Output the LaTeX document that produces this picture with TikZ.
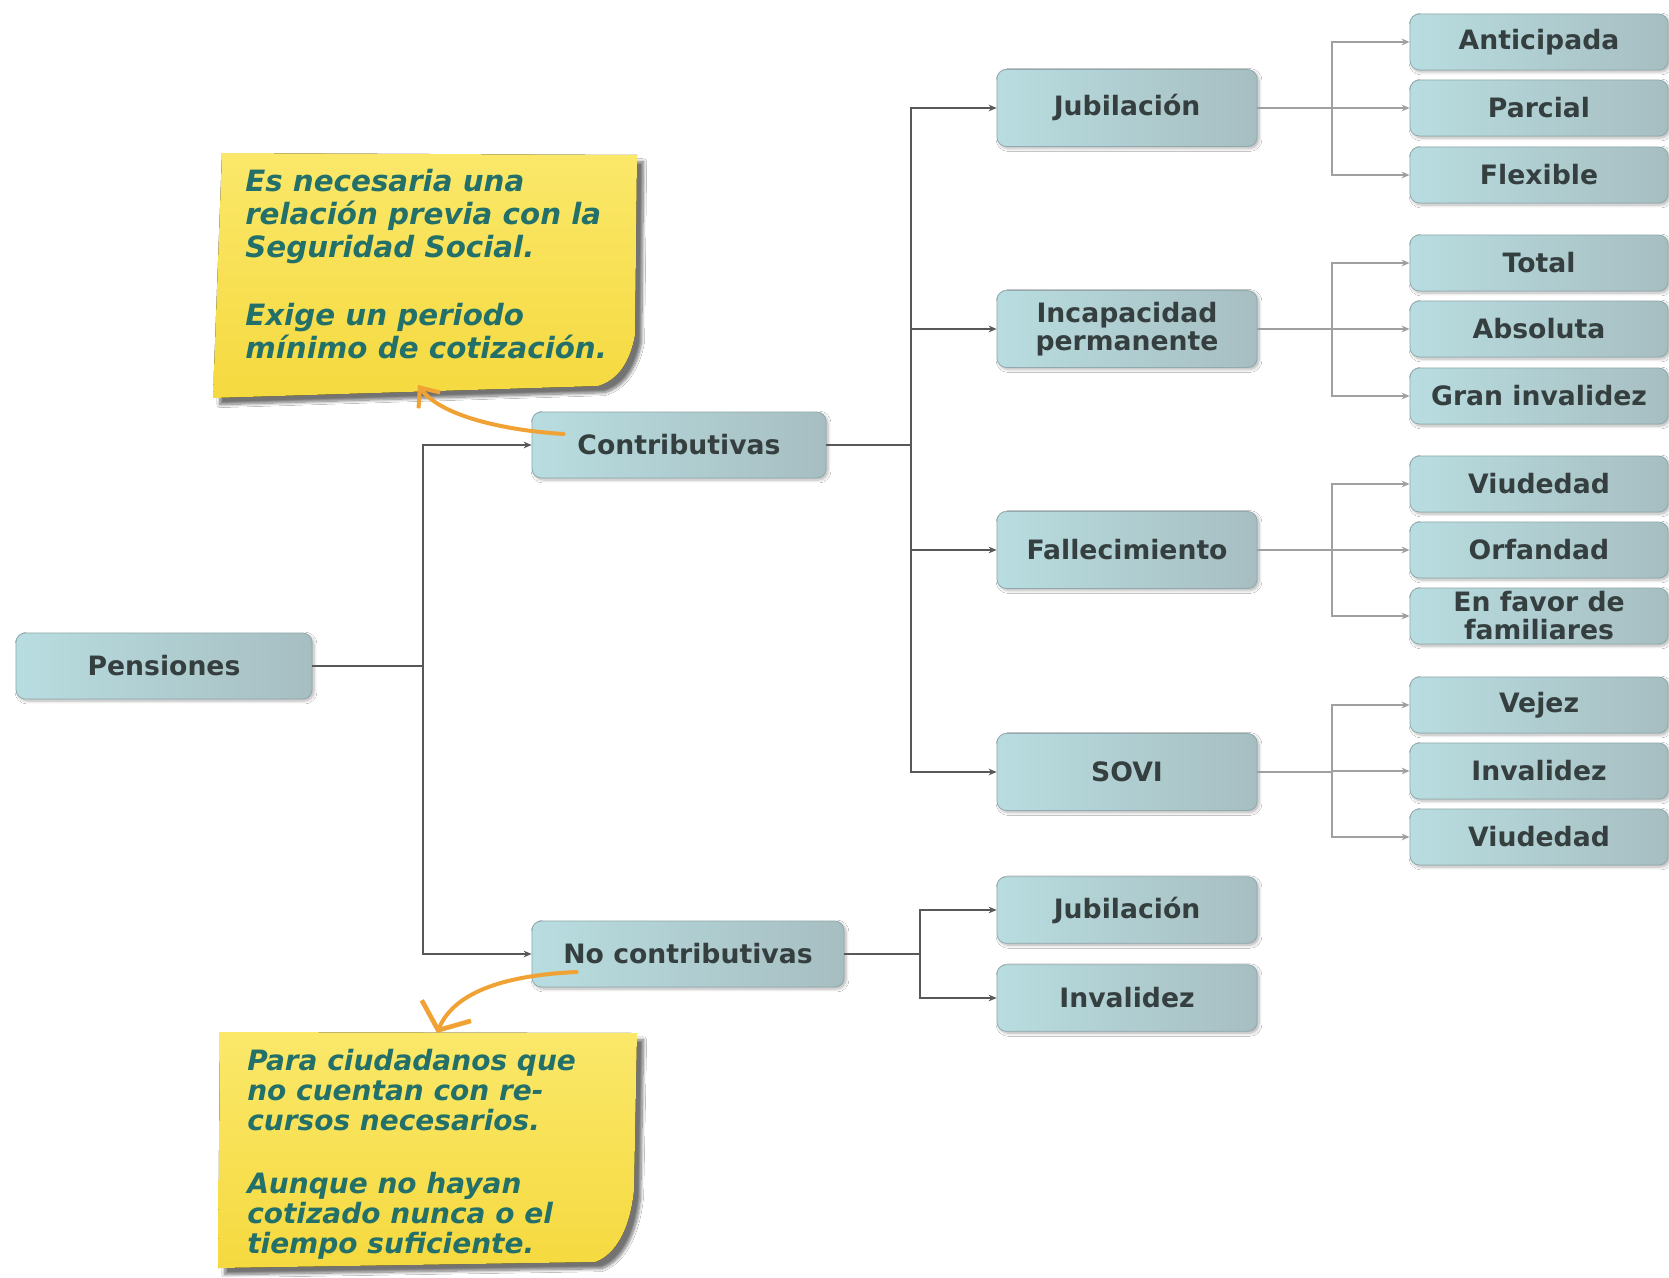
\documentclass[tikz,border=0pt]{standalone}
\usepackage{fontspec}
\setmainfont{DejaVu Sans}
\usetikzlibrary{arrows.meta,shadows.blur,calc}
\definecolor{boxL}{HTML}{B8DDE0}
\definecolor{boxR}{HTML}{A7BEC1}
\definecolor{boxD}{HTML}{90AAAD}
\definecolor{txt}{HTML}{353F40}
\definecolor{ln}{HTML}{585858}
\definecolor{lnl}{HTML}{A0A0A0}
\definecolor{note}{HTML}{F5D93F}
\definecolor{noteT}{HTML}{FBE86A}
\definecolor{hand}{HTML}{23706A}
\definecolor{orng}{HTML}{F0A234}
\tikzset{
  tbox/.style={rounded corners=7pt, left color=boxL, right color=boxR, draw=boxD,
    line width=0.6pt, font=\bfseries\fontsize{20}{21}\selectfont, text=txt,
    align=center, inner sep=2pt,
    blur shadow={shadow xshift=1.5pt, shadow yshift=-1.5pt, shadow opacity=30, shadow blur steps=6}},
  rootbox/.style={tbox, minimum width=222pt, minimum height=49.5pt},
  c1box/.style={tbox, minimum width=220.5pt, minimum height=49.5pt},
  c2box/.style={tbox, minimum width=234pt, minimum height=49.5pt},
  midbox/.style={tbox, minimum width=195pt, minimum height=57.75pt},
  ncbox/.style={tbox, minimum width=195pt, minimum height=50pt},
  leafbox/.style={tbox, minimum width=193.5pt, minimum height=42pt},
  l2/.style={draw=ln, line width=1.5pt},
  l2a/.style={l2, -{Stealth[length=6pt,width=5pt]}},
  l3/.style={draw=lnl, line width=1.5pt},
  l3a/.style={l3, -{Stealth[length=6pt,width=5pt]}},
  notepaper/.style={top color=noteT, bottom color=note,
    blur shadow={shadow xshift=5pt, shadow yshift=-5pt, shadow opacity=55, shadow blur steps=10}},
  handtxt/.style={font=\bfseries\itshape\fontsize{22}{24.75}\selectfont, text=hand, align=left, inner sep=0pt},
  handtxtb/.style={font=\bfseries\itshape\fontsize{21}{22.5}\selectfont, text=hand, align=left, inner sep=0pt},
  orarrow/.style={draw=orng, line width=3pt, line cap=round},
}
\begin{document}
\begin{tikzpicture}[x=0.75pt,y=-0.75pt]
\useasboundingbox (0,0) rectangle (1669,1277);
\fill[white] (0,0) rectangle (1669,1277);

% sticky notes
\fill[notepaper] (222,153) -- (637,155) -- (635,335) .. controls (630,362) and (618,380) .. (598,386) -- (213,398) -- cycle;
\node[handtxt, anchor=north west] (t1) at (245,169)
  {Es necesaria una\\relación previa con la\\Seguridad Social.\\[26pt]Exige un periodo\\mínimo de cotización.};
\coordinate (n1tip) at (418,385);

\fill[notepaper] (220,1032) -- (637,1033) -- (634,1190) .. controls (630,1230) and (615,1255) .. (595,1262) -- (218,1268) -- cycle;
\node[handtxtb, anchor=north west] (t2) at (247,1049)
  {Para ciudadanos que\\no cuentan con re-\\cursos necesarios.\\[24.75pt]Aunque no hayan\\cotizado nunca o el\\tiempo suficiente.};
\coordinate (n2tip) at (437,1033);

% nodes
\node[rootbox] (pen) at (164,666) {Pensiones};
\node[c1box] (con) at (679,445) {Contributivas};
\node[c2box] (nc) at (688,954) {No contributivas};

\node[midbox] (jub) at (1127,108) {Jubilación};
\node[midbox] (inc) at (1127,329) {Incapacidad\\permanente};
\node[midbox] (fal) at (1127,550) {Fallecimiento};
\node[midbox] (sovi) at (1127,772) {SOVI};
\node[ncbox] (ncj) at (1127,910) {Jubilación};
\node[ncbox] (nci) at (1127,998) {Invalidez};

\node[leafbox] (ant) at (1539,42) {Anticipada};
\node[leafbox] (par) at (1539,108) {Parcial};
\node[leafbox] (fle) at (1539,175) {Flexible};
\node[leafbox] (tot) at (1539,263) {Total};
\node[leafbox] (abs) at (1539,329) {Absoluta};
\node[leafbox] (gra) at (1539,396) {Gran invalidez};
\node[leafbox] (viu) at (1539,484) {Viudedad};
\node[leafbox] (orf) at (1539,550) {Orfandad};
\node[leafbox] (fav) at (1539,616) {En favor de\\familiares};
\node[leafbox] (vej) at (1539,705) {Vejez};
\node[leafbox] (inv) at (1539,771) {Invalidez};
\node[leafbox] (viu2) at (1539,837) {Viudedad};

% junctions
\coordinate (j1) at (423,666);
\coordinate (j2) at (911,445);
\coordinate (j3) at (920,954);
\coordinate (kx) at (1332,0);

\draw[l2] (pen.east) -- (j1);
\draw[l2a] (j1) |- (con.west);
\draw[l2a] (j1) |- (nc.west);

\draw[l2] (con.east) -- (j2);
\foreach \n in {jub,inc,fal,sovi} \draw[l2a] (j2) |- (\n.west);

\draw[l2] (nc.east) -- (j3);
\foreach \n in {ncj,nci} \draw[l2a] (j3) |- (\n.west);

\draw[l3] (jub.east) -- (jub.east -| kx);
\foreach \n in {ant,par,fle} \draw[l3a] (jub.east -| kx) |- (\n.west);
\draw[l3] (inc.east) -- (inc.east -| kx);
\foreach \n in {tot,abs,gra} \draw[l3a] (inc.east -| kx) |- (\n.west);
\draw[l3] (fal.east) -- (fal.east -| kx);
\foreach \n in {viu,orf,fav} \draw[l3a] (fal.east -| kx) |- (\n.west);
\draw[l3] (sovi.east) -- (sovi.east -| kx);
\foreach \n in {vej,inv,viu2} \draw[l3a] (sovi.east -| kx) |- (\n.west);

% orange arrows
\draw[orarrow, -{Straight Barb[length=12pt,width=20pt,line width=3pt]}]
  ($(con.west)+(32,-11)$) .. controls (500,430) and (440,415) .. (n1tip);
\draw[orarrow, -{Straight Barb[length=16pt,width=40pt,line width=3.5pt]}]
  ($(nc.west)+(45,18)$) .. controls (510,975) and (455,990) .. (n2tip);
\end{tikzpicture}
\end{document}
